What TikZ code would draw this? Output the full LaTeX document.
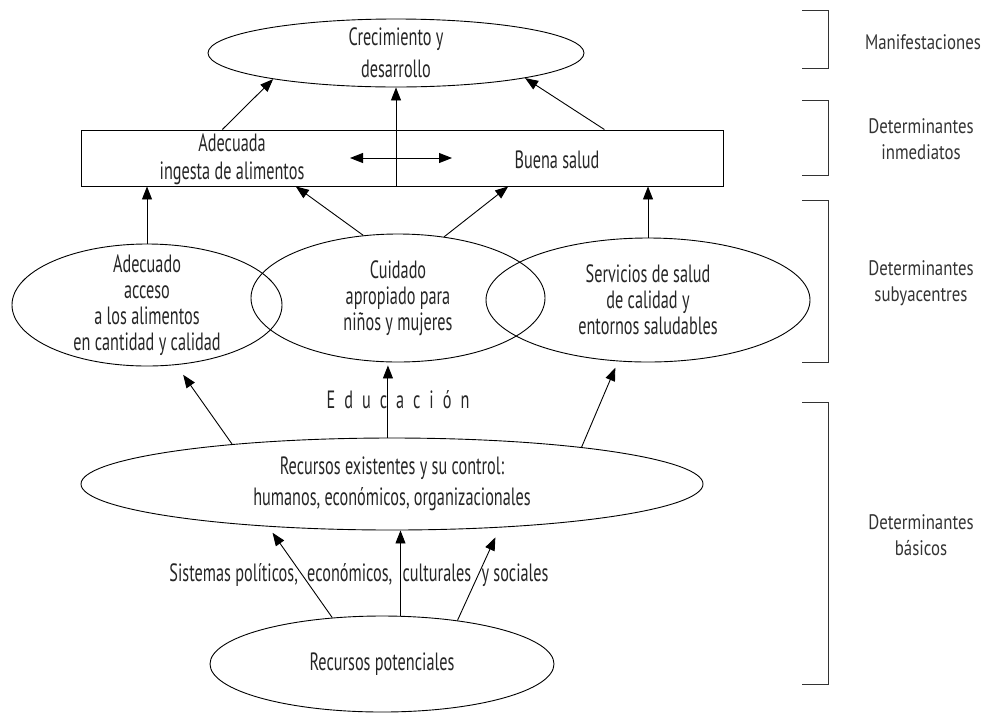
\documentclass[tikz,border=0pt]{standalone}
\usepackage{fontspec}
\setmainfont{PT Sans}
\newfontfamily\condfont[FakeStretch=0.65]{PT Sans}
\newfontfamily\sidefont[FakeStretch=0.8]{PT Sans}
\usetikzlibrary{shapes.geometric,arrows.meta}
\tikzset{
  blob/.style={ellipse, draw, inner sep=0pt, line width=0.9pt},
  txt/.style={align=center, text=black!85, font=\condfont\fontsize{25}{26}\selectfont},
  side/.style={align=center, text=black!80, font=\sidefont\fontsize{21}{26}\selectfont},
  arr/.style={line width=0.9pt, -{Triangle[length=13pt,width=10pt]}},
  dbl/.style={line width=0.9pt, {Triangle[length=13pt,width=10pt]}-{Triangle[length=13pt,width=10pt]}},
  brace/.style={line width=0.9pt, black!80}
}

\begin{document}
\begin{tikzpicture}[x=1pt,y=-1pt]
  \useasboundingbox (0,0) rectangle (987,713);
  \node[blob, minimum width=376pt, minimum height=68pt,
    label={[txt]center:{Crecimiento y\\[6pt]desarrollo}}] (crec) at (396,53) {};
  \node[draw, line width=0.9pt, minimum width=642pt, minimum height=56pt, inner sep=0pt] (inmed) at (402,158) {};
  \node[txt] (ingesta) at (232,159) {Adecuada\\[2pt]ingesta de alimentos};
  \node[txt] (salud) at (557,160) {Buena salud};
  \node[blob, minimum width=270pt, minimum height=122pt,
    label={[txt]center:{Adecuado\\acceso\\a los alimentos\\en cantidad y calidad}}] (acceso) at (147,305) {};
  \node[blob, minimum width=294pt, minimum height=128pt,
    label={[txt]center:{Cuidado\\apropiado para\\niños y mujeres}}] (cuidado) at (398,298) {};
  \node[blob, minimum width=324pt, minimum height=124pt,
    label={[txt]center:{Servicios de salud\\de calidad y\\entornos saludables}}] (servicios) at (648,300) {};
  \node[txt, font=\condfont\fontsize{25}{26}\selectfont\addfontfeature{LetterSpace=36}] (educ) at (398,400) {Educación};
  \node[blob, minimum width=622pt, minimum height=92pt,
    label={[txt]center:{Recursos existentes y su control:\\[5pt]humanos, económicos, organizacionales}}] (existentes) at (392,484) {};
  \node[txt] (sistemas) at (359,575) {Sistemas políticos,\hspace{5pt} económicos,\hspace{6pt} culturales\hspace{6pt} y sociales};
  \node[blob, minimum width=344pt, minimum height=96pt,
    label={[txt]center:{Recursos potenciales}}] (potenciales) at (382,664) {};

  \draw[arr] (inmed.171.6) -- (crec.192);
  \draw[arr] (inmed.south -| crec.south) -- (crec.south);
  \draw[arr] (inmed.8.5) -- (crec.349);
  \draw[dbl] ([xshift=-52pt]inmed.center) -- ([xshift=50pt]inmed.center);

  \draw[arr] (acceso.north) -- (acceso.north |- inmed.south);
  \draw[arr] (cuidado.119.4) -- (inmed.195);
  \draw[arr] (cuidado.53.3) -- (inmed.345.8);
  \draw[arr] (servicios.north) -- (servicios.north |- inmed.south);

  \draw[arr, shorten >=12pt] (existentes.166) -- (acceso.296);
  \draw[arr, shorten >=3pt] (existentes.95) -- (existentes.95 |- cuidado.south);
  \draw[arr, shorten >=7pt] (existentes.11.9) -- (servicios.244);

  \draw[arr, shorten >=7.5pt] (potenciales.137.9) -- (existentes.199.6);
  \draw[arr] (potenciales.69.3) -- (potenciales.69.3 |- existentes.south);
  \draw[arr, shorten >=10.8pt] (potenciales.30.4) -- (existentes.338.3);

  \foreach \ya/\yb in {10/68,100/175,200/362,402/684}
    \draw[brace] (802,\ya) -- (828,\ya) -- (828,\yb) -- (802,\yb);
  \node[side] (manif) at (923,42) {Manifestaciones};
  \node[side] (inmediatos) at (921,139) {Determinantes\\inmediatos};
  \node[side] (subyac) at (921,283) {Determinantes\\subyacentres};
  \node[side] (basicos) at (921,535) {Determinantes\\básicos};
\end{tikzpicture}
\end{document}
